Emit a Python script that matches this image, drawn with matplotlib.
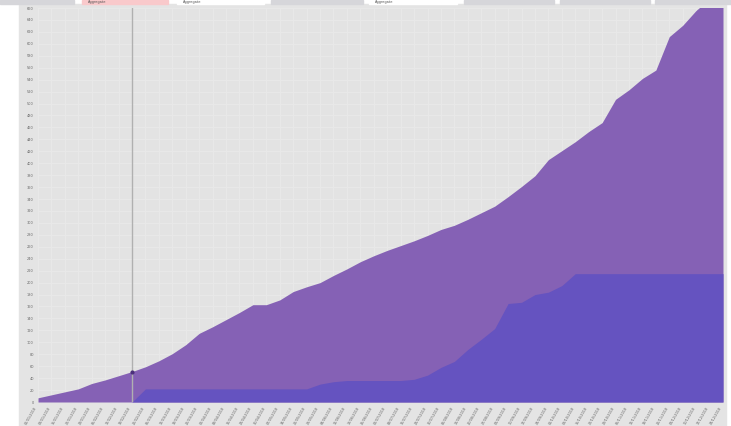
import matplotlib.pyplot as plt
import matplotlib.patches as patches
import numpy as np
import pandas as pd

# weekly dates on the x axis
dates = pd.date_range('2018-01-01', periods=52, freq='7D')
date_labels = [d.strftime('%d/%m/%Y') for d in dates]

total = [7, 12, 17, 22, 31, 37, 44, 51, 59, 69, 81, 96, 115, 126, 138, 150,
         163, 163, 171, 185, 193, 200, 212, 223, 235, 245, 254, 262, 270, 279,
         289, 296, 306, 317, 328, 344, 361, 379, 406, 421, 436, 453, 468, 507,
         523, 542, 556, 612, 631, 656, 675, 690]
closed = [0, 0, 0, 0, 0, 0, 0, 0, 22, 22, 22, 22, 22, 22, 22, 22,
          22, 22, 22, 22, 22, 30, 34, 36, 36, 36, 36, 36, 38, 45,
          58, 68, 88, 105, 123, 165, 167, 180, 184, 195, 215, 215, 215, 215,
          215, 215, 215, 215, 215, 215, 215, 215]
yticks = list(range(0, 661, 20))
marker_idx = 7

W, H = 731, 426
fig = plt.figure(figsize=(W / 100, H / 100), dpi=100, facecolor='white')

# grey page background and the cut-off tab strip at the top
fig.patches.append(patches.Rectangle((19 / W, 0), (726 - 19) / W, (H - 4) / H,
                                     transform=fig.transFigure, color='#e4e4e4', zorder=-2))
tabs = [(0, 74, '#d6d6da'), (82, 168, '#f9c9cb'), (177, 264, '#ffffff'),
        (271, 363, '#d6d6da'), (369, 457, '#ffffff'), (464, 554, '#d6d6da'),
        (560, 650, '#d6d6da'), (655, 731, '#d6d6da')]
for x0, x1, c in tabs:
    fig.patches.append(patches.Rectangle((x0 / W, (H - 4) / H), (x1 - x0) / W, 4 / H,
                                         transform=fig.transFigure, color=c, zorder=-1))
for x0 in [82, 177, 369]:
    fig.text((x0 + 6) / W, (H - 1.5) / H, 'Aggregate', fontsize=2.5, color='#555555',
             va='center', ha='left')

ax = fig.add_axes([38 / W, (H - 402) / H, (723 - 38) / W, (402 - 8) / H])
ax.set_zorder(3)
ax.set_facecolor('#e3e3e3')

x = np.arange(len(total))
ax.fill_between(x, 0, total, color='#8561b5', lw=0, zorder=2)
ax.fill_between(x, 0, closed, color='#6553c0', lw=0, zorder=3)

ax.axvline(marker_idx, color='#b0b0b0', lw=1, zorder=4)
ax.plot(marker_idx, total[marker_idx], 'o', color='#4b2f7a', ms=2, zorder=5)

ax.set_xlim(0, len(total) - 1)
ax.set_ylim(0, 660)
ax.set_xticks(x)
ax.set_xticklabels(date_labels, rotation=60, ha='right', fontsize=2.5, color='#666666')
ax.set_yticks(yticks)
ax.set_yticklabels(yticks, fontsize=2.5, color='#666666')
ax.tick_params(length=0, pad=3)
ax.grid(True, color='#e9e9e9', lw=0.6, zorder=1)
ax.set_axisbelow(True)
for s in ax.spines.values():
    s.set_visible(False)

fig.savefig('out.png', dpi=100, facecolor=fig.get_facecolor())
